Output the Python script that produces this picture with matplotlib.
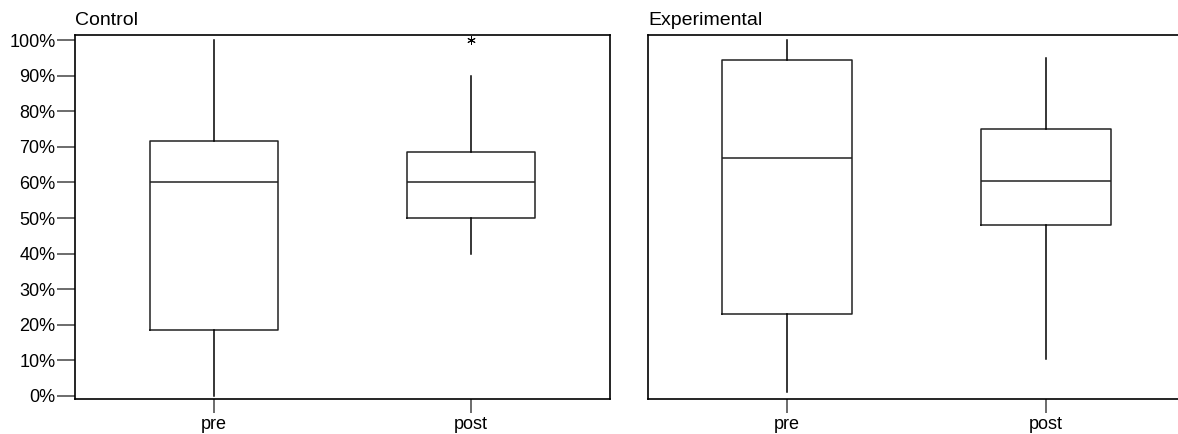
import matplotlib
matplotlib.use("Agg")
import matplotlib.pyplot as plt
from matplotlib.ticker import PercentFormatter

plt.rcParams['font.family'] = ['Liberation Sans', 'DejaVu Sans']

# ---- data (fractions) ----
categories = ["pre", "post"]
panel_titles = ["Control", "Experimental"]

control_whislo = [0.00, 0.40]
control_q1     = [0.185, 0.50]
control_med    = [0.60, 0.60]
control_q3     = [0.715, 0.685]
control_whishi = [1.00, 0.90]
control_fliers = [[], [1.00]]

exp_whislo = [0.01, 0.105]
exp_q1     = [0.23, 0.48]
exp_med    = [0.67, 0.604]
exp_q3     = [0.944, 0.75]
exp_whishi = [1.00, 0.95]
exp_fliers = [[], []]

ytick_vals = [0.0, 0.1, 0.2, 0.3, 0.4, 0.5, 0.6, 0.7, 0.8, 0.9, 1.0]


def make_stats(lo, q1, med, q3, hi, fl):
    return [dict(whislo=lo[i], q1=q1[i], med=med[i], q3=q3[i], whishi=hi[i],
                 fliers=fl[i], label=categories[i]) for i in range(len(categories))]


W, H = 1178, 434
fig = plt.figure(figsize=(W / 100, H / 100), dpi=100)

ax_bottom = 34.7 / H
ax_height = 364.6 / H
axL = fig.add_axes([75 / W, ax_bottom, 535 / W, ax_height])
axR = fig.add_axes([648 / W, ax_bottom, 535 / W, ax_height])

box_col = '#222222'
lw = 1.1
stats_sets = [
    make_stats(control_whislo, control_q1, control_med, control_q3, control_whishi, control_fliers),
    make_stats(exp_whislo, exp_q1, exp_med, exp_q3, exp_whishi, exp_fliers),
]
xlims = [(0.459, 2.541), (0.463, 2.529)]

for ax, stats, title, xl in zip([axL, axR], stats_sets, panel_titles, xlims):
    ax.bxp(stats, positions=[1, 2], widths=0.5, showcaps=False,
           boxprops=dict(color=box_col, linewidth=lw),
           whiskerprops=dict(color='black', linewidth=lw),
           medianprops=dict(color=box_col, linewidth=lw),
           flierprops=dict(marker=(6, 2, 0), markersize=6, markeredgecolor='black',
                           markeredgewidth=0.7, linestyle='none'))
    ax.set_xlim(*xl)
    ax.set_ylim(-0.0093, 1.015)
    ax.set_xticks([1, 2])
    ax.set_xticklabels(categories, fontsize=13)
    ax.tick_params(axis='x', length=10, width=1.1, color='#444444', pad=2)
    for s in ax.spines.values():
        s.set_linewidth(1.2)
        s.set_color('black')
    ax.set_title(title, loc='left', fontsize=14, pad=7)

axL.set_yticks(ytick_vals)
axL.yaxis.set_major_formatter(PercentFormatter(1.0, decimals=0))
axL.tick_params(axis='y', length=13, width=1.1, color='#444444', pad=1, labelsize=13)
axR.set_yticks([])

fig.savefig("out.png", dpi=100)
